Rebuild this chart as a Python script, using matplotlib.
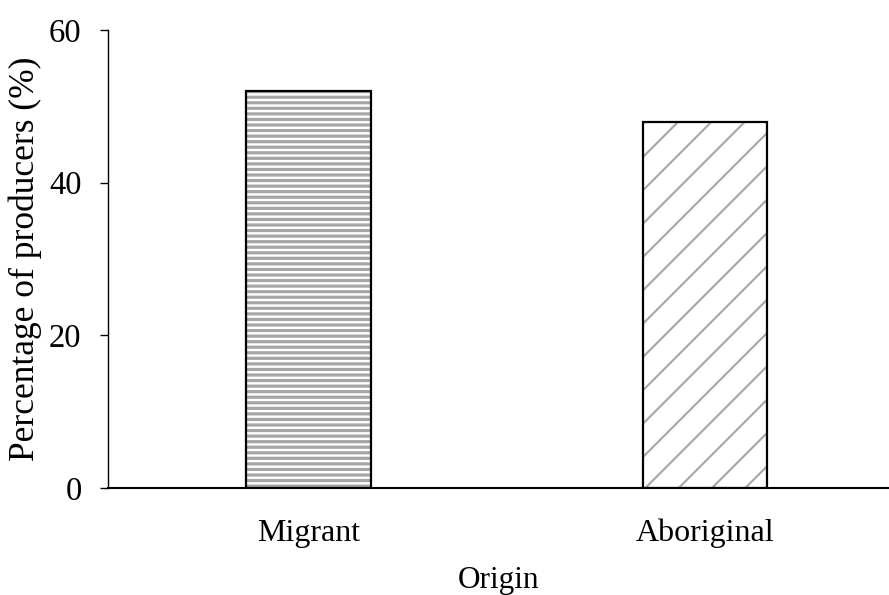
import matplotlib
matplotlib.use("Agg")
import matplotlib.pyplot as plt

categories = ["Migrant", "Aboriginal"]
values = [52, 48]
yticks = [0, 20, 40, 60]

plt.rcParams['font.family'] = ['Liberation Serif', 'DejaVu Serif']

fig = plt.figure(figsize=(8.89, 5.95), dpi=100)
ax = fig.add_axes([0.1215, 0.1798, 0.8785, 0.7698])

x = list(range(len(categories)))
hatches = ['---', '/']
hatch_lw = [2.3, 1.5]
hatch_col = '#a6a6a6'
bw = 0.315
for xi, v, h, hlw in zip(x, values, hatches, hatch_lw):
    with plt.rc_context({'hatch.linewidth': hlw}):
        ax.bar(xi, v, width=bw, color='white', edgecolor=hatch_col,
               linewidth=0, hatch=h)
    ax.bar(xi, v, width=bw, fill=False, edgecolor='black', linewidth=1.6)

ax.set_xlim(-0.5057, 1.464)
ax.set_ylim(0, 60)
ax.set_yticks(yticks)
ax.set_xticks(x)
ax.set_xticklabels(categories)
ax.tick_params(axis='y', direction='out', length=6, width=1, labelsize=23.5, pad=13)
ax.tick_params(axis='x', length=0, labelsize=23, pad=22)
for s in ['top', 'right']:
    ax.spines[s].set_visible(False)
ax.spines['left'].set_linewidth(1)
ax.spines['bottom'].set_linewidth(1.5)
ax.set_ylabel('Percentage of producers (%)', fontsize=25.5, labelpad=5)
ax.set_xlabel('Origin', fontsize=22.5, labelpad=13)

fig.savefig('out.png', dpi=100)
